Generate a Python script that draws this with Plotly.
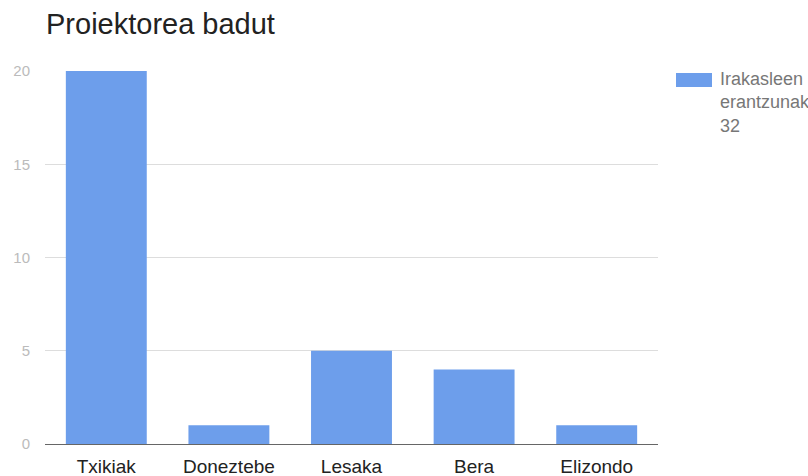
import plotly.graph_objects as go

categories = ["Txikiak", "Doneztebe", "Lesaka", "Bera", "Elizondo"]
values = [20, 1, 5, 4, 1]
series_name = "Irakasleen<br>erantzunak<br>32"
y_ticks = [0, 5, 10, 15, 20]

BAR = "#6d9eeb"

fig = go.Figure()
fig.add_trace(go.Bar(x=categories, y=values, marker_color=BAR, marker_line_width=0,
                     name=series_name, showlegend=False))

fig.update_layout(
    width=808, height=476,
    margin=dict(l=45, r=150, t=71, b=32),
    paper_bgcolor="white", plot_bgcolor="white",
    bargap=0.34,
    font=dict(family="Liberation Sans, Arial, sans-serif"),
    title=dict(text="Proiektorea badut", x=46/808, xanchor="left",
               y=1-24/476, yanchor="middle",
               font=dict(size=29, color="#222222")),
    xaxis=dict(showgrid=False, showline=False, ticks="", automargin=False,
               tickfont=dict(size=19, color="#222222"), ticklabelstandoff=9),
    yaxis=dict(range=[0, 20], tickvals=y_ticks, showgrid=True, gridcolor="#dddddd",
               gridwidth=1, zeroline=True, zerolinecolor="#666666", zerolinewidth=1,
               showline=False, ticks="", automargin=False,
               tickfont=dict(size=15, color="#bbbbbb"),
               ticklabelstandoff=14),
    showlegend=False,
)

# legend drawn manually (wide swatch as in reference)
fig.add_shape(type="rect", xref="paper", yref="paper",
              x0=(676-45)/613, x1=(712-45)/613,
              y0=(444-87)/373, y1=(444-73)/373,
              fillcolor=BAR, line_width=0)
fig.add_annotation(text=series_name, xref="paper", yref="paper",
                   x=(718-45)/613, y=(444-67)/373, xanchor="left", yanchor="top",
                   align="left", showarrow=False,
                   font=dict(size=18, color="#777777"))

fig.write_html("out.html")
